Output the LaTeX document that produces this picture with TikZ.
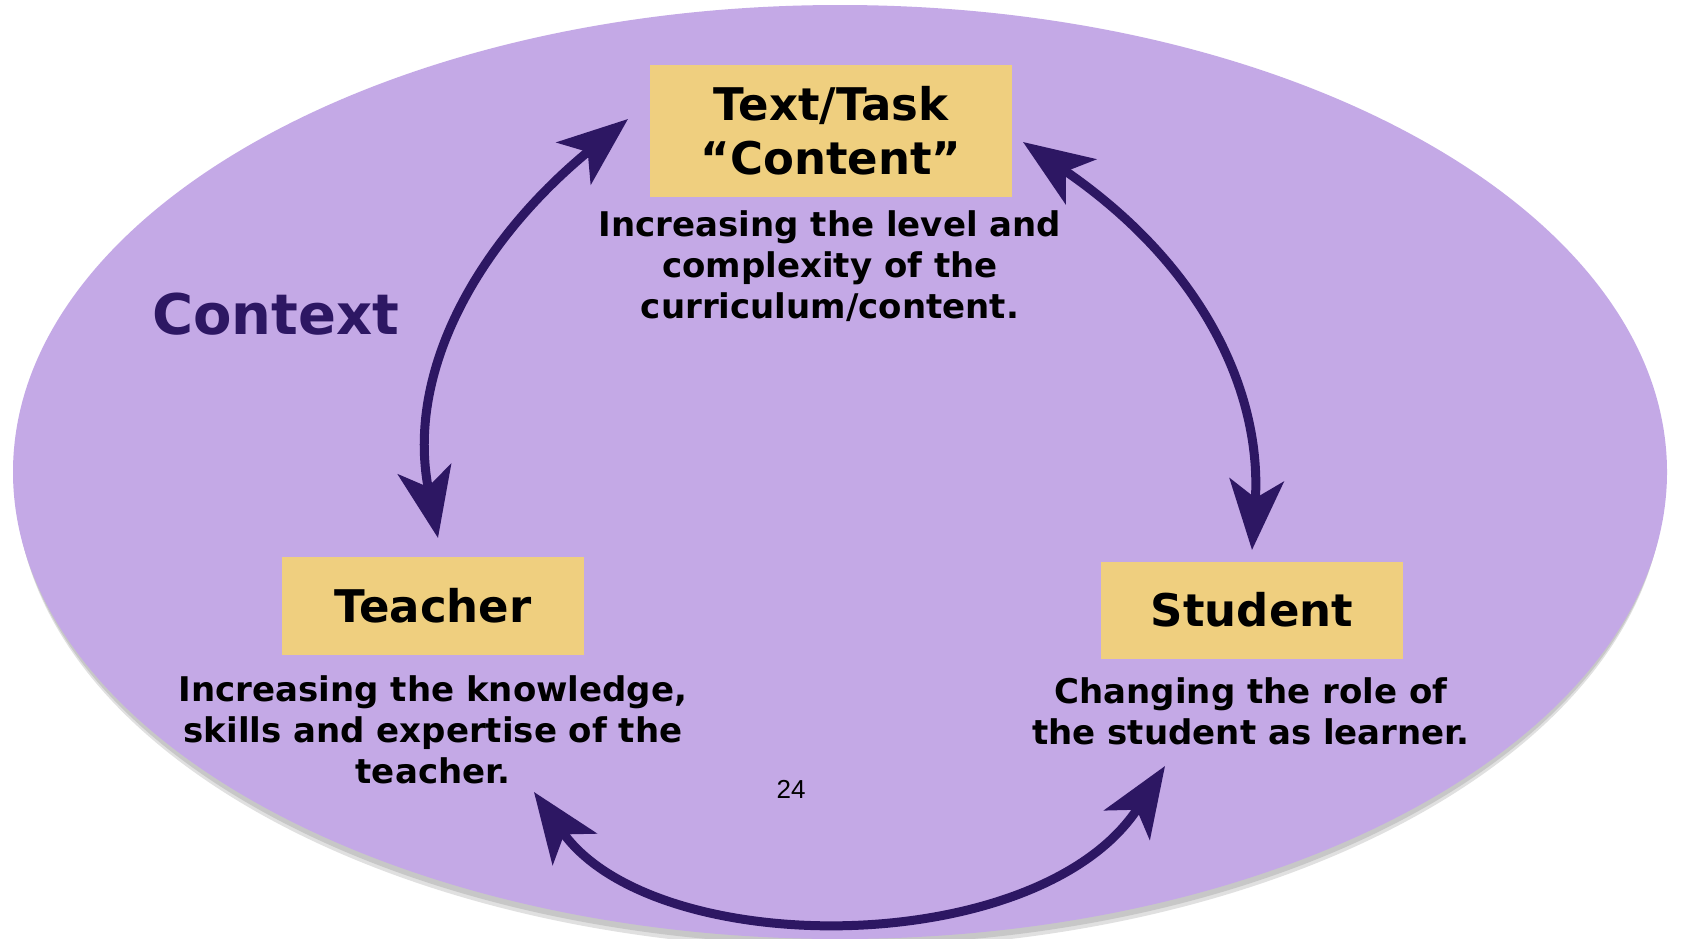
\documentclass[tikz,border=0pt]{standalone}
\usepackage{fontspec}
\setmainfont{DejaVu Sans}
\newfontfamily\pagenumfont{Liberation Sans}
\usetikzlibrary{arrows.meta}
\definecolor{lav}{HTML}{C4A9E6}
\definecolor{gold}{HTML}{EFCF7F}
\definecolor{deep}{HTML}{2D1763}
\begin{document}
\begin{tikzpicture}[x=1pt,y=-1pt,
  box/.style={fill=gold, draw=none, inner sep=0pt, font=\bfseries\fontsize{45}{54}\selectfont, align=center},
  desc/.style={font=\bfseries\fontsize{34}{41}\selectfont, align=center, inner sep=0pt},
  link/.style={draw=deep, line width=9pt, {Stealth[length=70pt,width=54pt,inset=18pt]}-{Stealth[length=70pt,width=54pt,inset=18pt]}}
]
\useasboundingbox (0,0) rectangle (1684,938);
\clip (0,0) rectangle (1684,938);
\fill[white] (0,0) rectangle (1684,938);
\fill[black!12] (840,482) ellipse [x radius=824, y radius=467];
\fill[black!22] (840,478) ellipse [x radius=825, y radius=467];
\fill[lav] (840,472) ellipse [x radius=827, y radius=467];

\node[box, minimum width=362pt, minimum height=132pt] (task) at (831,131) {Text/Task\\“Content”};
\node[box, minimum width=302pt, minimum height=98pt] (teacher) at (433,606) {Teacher};
\node[box, minimum width=302pt, minimum height=97pt] (student) at (1252,610) {Student};

\node[desc] (taskd) at (830,266) {Increasing the level and\\complexity of the\\curriculum/content.};
\node[desc] (teacherd) at (433,730) {Increasing the knowledge,\\skills and expertise of the\\teacher.};
\node[desc] (studentd) at (1251,711) {Changing the role of\\the student as learner.};
\node[font=\bfseries\fontsize{56}{60}\selectfont, text=deep, anchor=west, inner sep=0pt] (context) at (152,314) {Context};
\node[font=\pagenumfont\fontsize{26}{30}\selectfont, inner sep=0pt] (page) at (791,789) {24};

\coordinate (lt) at (628,119);
\coordinate (lb) at (438,538);
\coordinate (rt) at (1023,142);
\coordinate (rb) at (1252,550);
\coordinate (bl) at (534,792);
\coordinate (br) at (1165,766);

\draw[link] (lt) .. controls (480,240) and (405,370) .. (lb);
\draw[link] (rt) .. controls (1210,270) and (1262,400) .. (rb);
\draw[link] (bl) .. controls (655,962) and (1040,960) .. (br);
\end{tikzpicture}
\end{document}
